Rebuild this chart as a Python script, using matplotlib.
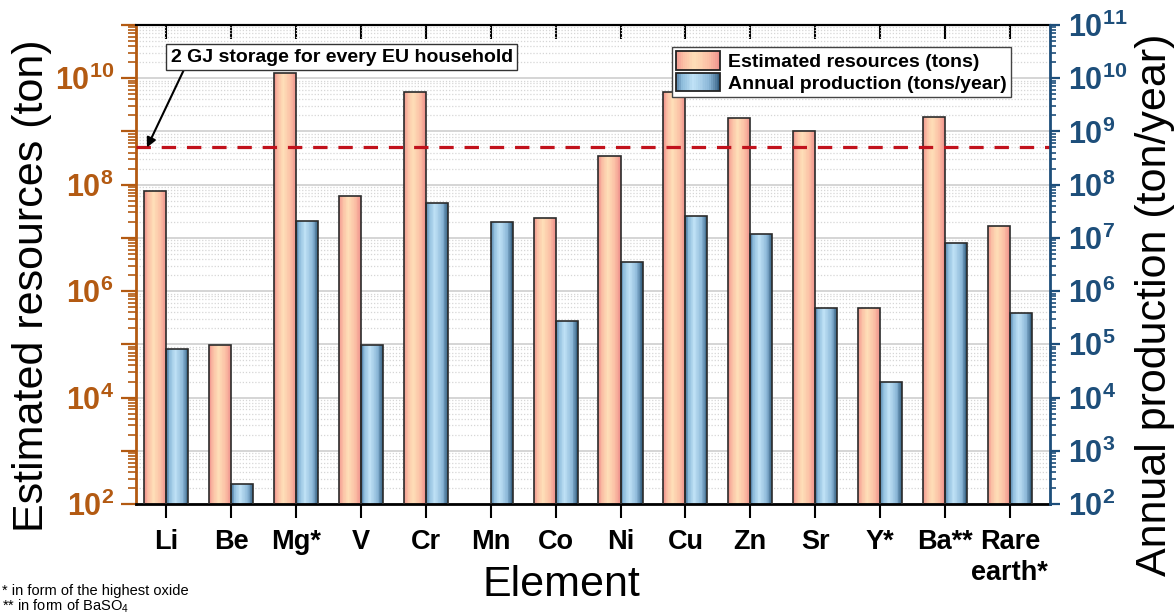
import numpy as np
import matplotlib
matplotlib.use('Agg')
import matplotlib.pyplot as plt
from matplotlib.colors import LinearSegmentedColormap
from matplotlib.patches import Patch, Rectangle
from matplotlib.legend_handler import HandlerBase
from matplotlib.ticker import LogLocator, FuncFormatter, NullFormatter

plt.rcParams['font.family'] = ['Liberation Sans', 'DejaVu Sans']
plt.rcParams['mathtext.fontset'] = 'custom'
plt.rcParams['mathtext.rm'] = 'Liberation Sans'
plt.rcParams['mathtext.bf'] = 'Liberation Sans:bold'

# data
elements = ['Li', 'Be', 'Mg*', 'V', 'Cr', 'Mn', 'Co', 'Ni', 'Cu', 'Zn', 'Sr', 'Y*', 'Ba**', 'Rare\nearth*']
resources = [7.6e7, 9.5e4, 1.25e10, 6.2e7, 5.4e9, np.nan, 2.4e7, 3.4e8, 5.4e9, 1.8e9, 1.0e9, 4.8e5, 1.9e9, 1.7e7]
production = [8.0e4, 2.35e2, 2.1e7, 9.8e4, 4.5e7, 1.95e7, 2.8e5, 3.5e6, 2.6e7, 1.2e7, 4.9e5, 2.0e4, 7.9e6, 3.8e5]
household_level = 5e8
note_text = '2 GJ storage for every EU household'
res_label = 'Estimated resources (tons)'
prod_label = 'Annual production (tons/year)'

brown = '#b35a12'
navy = '#1d4e7a'

orange_cmap = LinearSegmentedColormap.from_list('o', [(0, '#f0928d'), (0.18, '#fbc0a5'), (0.42, '#fedfb8'),
                                                      (0.75, '#fbbea4'), (1, '#ee8e8a')])
blue_cmap = LinearSegmentedColormap.from_list('b', [(0, '#46739a'), (0.15, '#8fbddc'), (0.4, '#c0e2f6'),
                                                    (0.75, '#8cb8d8'), (1, '#2a5577')])


class GradHandler(HandlerBase):
    def __init__(self, cmap, n=24):
        super().__init__()
        self.cmap = cmap
        self.n = n

    def create_artists(self, legend, orig_handle, xdescent, ydescent, width, height, fontsize, trans):
        arts = []
        for k in range(self.n):
            r = Rectangle((-xdescent + width * k / self.n, -ydescent), width * (self.n - k) / self.n, height,
                          facecolor=self.cmap((k + 0.5) / self.n), edgecolor='none', transform=trans)
            arts.append(r)
        arts.append(Rectangle((-xdescent, -ydescent), width, height, facecolor='none',
                              edgecolor='#222222', lw=1.3, transform=trans))
        return arts


def grad_bars(ax, left, vals, w, cmap, n=30):
    dw = w / n
    for k in range(n):
        ax.bar(left + k * dw, vals, width=(n - k) * dw, align='edge', color=cmap((k + 0.5) / n),
               linewidth=0, zorder=2)
    ax.bar(left, vals, width=w, align='edge', fill=False, edgecolor='#2b2b2b', lw=1.2, zorder=3)


fig = plt.figure(figsize=(11.75, 6.14), dpi=100)
ax = fig.add_axes([0.1157, 0.1792, 0.7779, 0.7801])
x = np.arange(len(elements))
bar_w = 0.34

ax.set_yscale('log')
ax.set_ylim(1e2, 1e11)
ax.set_xlim(-0.47, 13.62)

grad_bars(ax, x - bar_w, np.array(resources), bar_w, orange_cmap)
grad_bars(ax, x, np.array(production), bar_w, blue_cmap)

ax.axhline(household_level, color='#c1121c', lw=2.3, linestyle=(0, (4.5, 3.4)), zorder=4)

ax.set_axisbelow(True)
ax.yaxis.set_major_locator(LogLocator(base=10, numticks=20))
ax.yaxis.set_minor_locator(LogLocator(base=10, subs=np.arange(2, 10), numticks=20))
ax.yaxis.set_major_formatter(FuncFormatter(
    lambda v, p: r'$\mathbf{10^{%d}}$' % round(np.log10(v)) if round(np.log10(v)) % 2 == 0 else ''))
ax.yaxis.set_minor_formatter(NullFormatter())
ax.grid(which='major', axis='y', color='#d2d2d2', lw=1.3)
ax.grid(which='minor', axis='y', color='#d6d6d6', lw=0.9, linestyle=(0, (1, 1.5)))

ax.tick_params(axis='y', which='major', direction='out', length=11, width=1.6, colors=brown,
               labelsize=22, pad=5)
ax.tick_params(axis='y', which='minor', direction='out', length=5.5, width=1.2, colors=brown)
ax.spines['left'].set_color(brown)
ax.spines['left'].set_linewidth(2)
ax.spines['right'].set_visible(False)
ax.spines['bottom'].set_linewidth(2)
ax.spines['top'].set_linewidth(1.5)

ax.set_xticks(x)
ax.set_xticklabels(elements, fontsize=19.5, fontweight='bold', linespacing=1.25)
ax.tick_params(axis='x', direction='out', length=10, width=1.5, pad=8)
top = ax.secondary_xaxis('top')
top.set_xticks(x)
top.tick_params(direction='in', length=10, width=1.5, labeltop=False)
top.spines['top'].set_linewidth(1.5)

ax2 = ax.twinx()
ax2.set_yscale('log')
ax2.set_ylim(1e2, 1e11)
ax2.yaxis.set_major_locator(LogLocator(base=10, numticks=20))
ax2.yaxis.set_minor_locator(LogLocator(base=10, subs=np.arange(2, 10), numticks=20))
ax2.yaxis.set_major_formatter(FuncFormatter(lambda v, p: r'$\mathbf{10^{%d}}$' % round(np.log10(v))))
ax2.yaxis.set_minor_formatter(NullFormatter())
ax2.tick_params(axis='y', which='major', direction='out', length=7, width=1.6, colors=navy,
                labelsize=22, pad=6)
ax2.tick_params(axis='y', which='minor', direction='out', length=4, width=1.2, colors=navy)
for s in ['left', 'top', 'bottom']:
    ax2.spines[s].set_visible(False)
ax2.spines['right'].set_color(navy)
ax2.spines['right'].set_linewidth(2)

ax.set_ylabel('Estimated resources (ton)', fontsize=31)
ax.yaxis.set_label_coords(-0.092, 0.455)
ax2.set_ylabel('Annual production (ton/year)', fontsize=31)
ax2.yaxis.set_label_coords(1.093, 0.415)
ax.set_xlabel('Element', fontsize=31)
ax.xaxis.set_label_coords(0.465, -0.128)

ax2.annotate(note_text, xy=(-0.30, household_level), xytext=(2.70, 2.5e10), ha='center', va='center',
             fontsize=14, fontweight='bold', zorder=6,
             bbox=dict(boxstyle='square,pad=0.22', fc='white', ec='#333333', lw=1),
             arrowprops=dict(arrowstyle='-|>', color='black', lw=1.5, relpos=(0.045, 0),
                             mutation_scale=14, shrinkA=0, shrinkB=0))

h1 = Patch(label=res_label)
h2 = Patch(label=prod_label)
leg = ax2.legend(handles=[h1, h2], handler_map={h1: GradHandler(orange_cmap), h2: GradHandler(blue_cmap)},
                 loc='upper right', bbox_to_anchor=(0.957, 0.954), prop={'size': 14, 'weight': 'bold'},
                 fancybox=False, framealpha=1, edgecolor='#444444', handlelength=2.3, handleheight=1.1,
                 labelspacing=0.1, borderpad=0.2, handletextpad=0.4, borderaxespad=0)
leg.get_frame().set_linewidth(1)

fig.text(0.002, 0.038, '* in form of the highest oxide', fontsize=10.5, va='center')
fig.text(0.002, 0.013, r'** in form of BaSO$_4$', fontsize=10.5, va='center')

fig.savefig('out.png', dpi=100)
